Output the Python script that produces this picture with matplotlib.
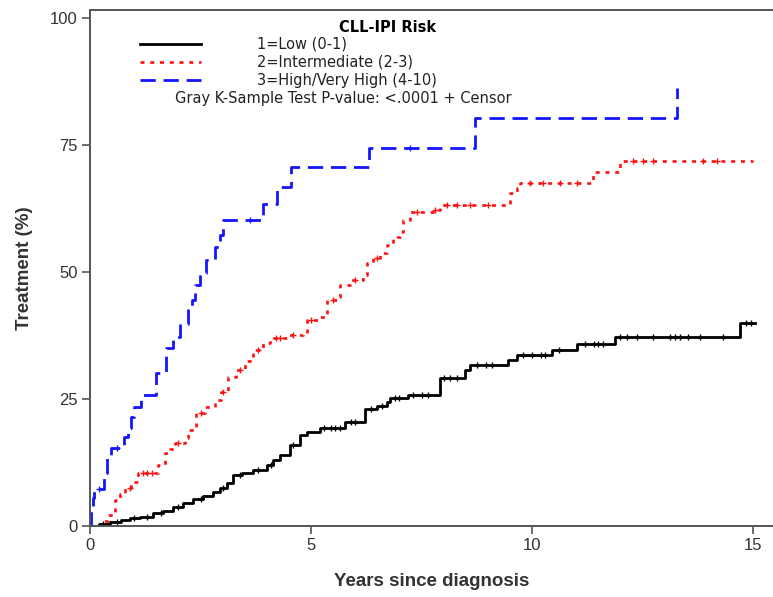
import numpy as np
import matplotlib
matplotlib.use("Agg")
import matplotlib.pyplot as plt
from matplotlib.lines import Line2D

# ---------------------------------------------------------------- data
# step change points: time (years) -> cumulative incidence of treatment (%)
t_low = [0, 0.2, 0.45, 0.7, 0.9, 1.13, 1.43, 1.65, 1.88, 2.1, 2.33, 2.55, 2.78, 2.95,
         3.1, 3.24, 3.45, 3.69, 4.0, 4.15, 4.3, 4.52, 4.75, 4.9, 5.2, 5.77, 6.22, 6.49,
         6.72, 6.79, 7.19, 7.92, 8.48, 8.6, 9.46, 9.66, 10.45, 11.02, 11.88, 14.71]
y_low = [0, 0.4, 0.8, 1.2, 1.5, 1.8, 2.5, 3.0, 3.7, 4.5, 5.4, 6.0, 6.7, 7.5,
         8.4, 10.0, 10.5, 11.0, 12.0, 13.0, 14.0, 16.0, 17.9, 18.5, 19.3, 20.5, 23.0, 23.6,
         24.4, 25.2, 25.8, 29.1, 30.7, 31.7, 32.7, 33.7, 34.6, 35.8, 37.2, 40.0]
end_low = 15.05

t_int = [0, 0.3, 0.41, 0.56, 0.68, 0.79, 0.93, 1.08, 1.54, 1.69, 1.8, 1.92, 2.15, 2.22,
         2.4, 2.6, 2.83, 2.96, 3.12, 3.3, 3.5, 3.69, 3.92, 4.07, 4.45, 4.82, 4.9, 5.2,
         5.36, 5.58, 5.66, 5.88, 6.18, 6.27, 6.4, 6.56, 6.72, 6.86, 7.01, 7.08, 7.24,
         7.76, 7.92, 9.5, 9.66, 9.73, 11.38, 11.99]
y_int = [0, 1.0, 2.2, 5.1, 6.3, 7.5, 8.7, 10.4, 12.0, 14.3, 15.2, 16.3, 17.3, 18.9,
         22.2, 23.4, 24.8, 26.4, 29.3, 30.7, 32.5, 34.6, 36.0, 37.0, 37.6, 38.0, 40.6, 41.2,
         44.5, 45.1, 47.4, 48.4, 49.4, 51.8, 52.8, 53.7, 55.3, 56.9, 57.9, 60.2, 61.8,
         62.2, 63.2, 65.6, 66.5, 67.5, 69.7, 71.9]
end_int = 15.0

t_high = [0, 0.03, 0.06, 0.1, 0.32, 0.38, 0.47, 0.78, 0.86, 0.93, 1.0, 1.15, 1.49, 1.72,
          1.88, 2.03, 2.22, 2.3, 2.37, 2.48, 2.63, 2.83, 2.94, 3.01, 3.92, 4.23, 4.54,
          6.31, 8.71, 13.28]
y_high = [0, 3.0, 5.5, 7.3, 10.4, 13.4, 15.4, 17.5, 19.3, 21.5, 23.4, 25.8, 30.1, 35.0,
          37.2, 39.8, 42.5, 44.5, 47.4, 49.8, 52.4, 55.0, 57.3, 60.2, 63.4, 66.8, 70.7,
          74.4, 80.3, 86.2]
end_high = 13.28

# censoring times
cens_low = [0.3, 0.6, 1.0, 1.3, 1.6, 2.0, 2.5, 3.0, 3.4, 3.8, 4.1, 4.6, 5.3, 5.45, 5.55,
            5.65, 5.9, 6.0, 6.35, 6.6, 6.9, 7.0, 7.3, 7.5, 7.65, 8.0, 8.15, 8.3, 8.75,
            8.95, 9.1, 9.8, 10.0, 10.2, 10.3, 10.6, 11.2, 11.4, 11.5, 11.6, 12.0, 12.15,
            12.37, 12.74, 13.12, 13.24, 13.35, 13.53, 13.8, 14.32, 14.85, 14.95]
cens_int = [0.9, 1.2, 1.3, 1.4, 2.0, 2.5, 3.0, 3.4, 3.8, 4.2, 4.3, 4.6, 5.0, 5.5, 6.0,
            6.5, 7.4, 7.8, 8.07, 8.3, 8.6, 9.0, 9.95, 10.25, 10.63, 11.02, 12.29, 12.51,
            12.74, 13.87, 14.19]
cens_high = [0.2, 0.6, 3.62, 7.24]

labels = ["1=Low (0-1)", "2=Intermediate (2-3)", "3=High/Very High (4-10)"]
legend_title = "CLL-IPI Risk"
test_text = "Gray K-Sample Test P-value: <.0001 + Censor"

# ---------------------------------------------------------------- plot
plt.rcParams["font.family"] = ["Liberation Sans", "DejaVu Sans"]

fig = plt.figure(figsize=(7.73, 5.97), dpi=100)
ax = fig.add_axes([90 / 773, 71 / 597, 683 / 773, 516 / 597])

styles = [
    dict(color="black", lw=2.0, ls="-"),
    dict(color="#ff1010", lw=1.9, ls=(0, (1.5, 2.2))),
    dict(color="#1414ff", lw=2.0, ls=(0, (5.5, 2.8))),
]
groups = [
    (t_low, y_low, end_low, cens_low),
    (t_int, y_int, end_int, cens_int),
    (t_high, y_high, end_high, cens_high),
]

handles = []
for (t, y, t_end, cens), st in zip(groups, styles):
    tt = np.append(t, t_end)
    yy = np.append(y, y[-1])
    ax.step(tt, yy, where="post", **st)
    # censor marks sit on the curve value at that time
    idx = np.searchsorted(t, cens, side="right") - 1
    ax.plot(cens, np.asarray(y)[idx], ls="none", marker="+", ms=5,
            mew=1.0, color=st["color"])
    handles.append(Line2D([], [], **st))

ax.set_xlim(0, 683 / 44.2)
ax.set_ylim(0, 516 / 5.08)
ax.set_xticks([0, 5, 10, 15])
ax.set_yticks([0, 25, 50, 75, 100])

for s in ["left", "bottom", "top"]:
    ax.spines[s].set_color("#555555")
    ax.spines[s].set_linewidth(1.4)
ax.spines["right"].set_visible(False)
ax.tick_params(direction="out", length=6, width=1.2, color="#555555",
               labelsize=12, labelcolor="#333333", pad=3)

ax.set_xlabel("Years since diagnosis", fontsize=13.5, fontweight="bold",
              color="#333333", labelpad=14)
ax.set_ylabel("Treatment (%)", fontsize=13.5, fontweight="bold",
              color="#333333", labelpad=12)

leg = ax.legend(handles, labels, title=legend_title, loc="upper left",
                bbox_to_anchor=(0.073, 0.98), frameon=False, borderpad=0,
                borderaxespad=0, handlelength=4.2, handletextpad=3.8,
                labelspacing=0.22, alignment="right",
                prop=dict(family="DejaVu Sans", size=10.5),
                title_fontproperties=dict(family="DejaVu Sans", size=10.5,
                                          weight="bold"))
leg._legend_box.sep = 1
for txt in leg.get_texts():
    txt.set_color("#222222")

ax.text(0.124, 0.829, test_text, transform=ax.transAxes, ha="left", va="center",
        fontsize=10.5, family="DejaVu Sans", color="#222222")

fig.savefig("out.png", dpi=100)
